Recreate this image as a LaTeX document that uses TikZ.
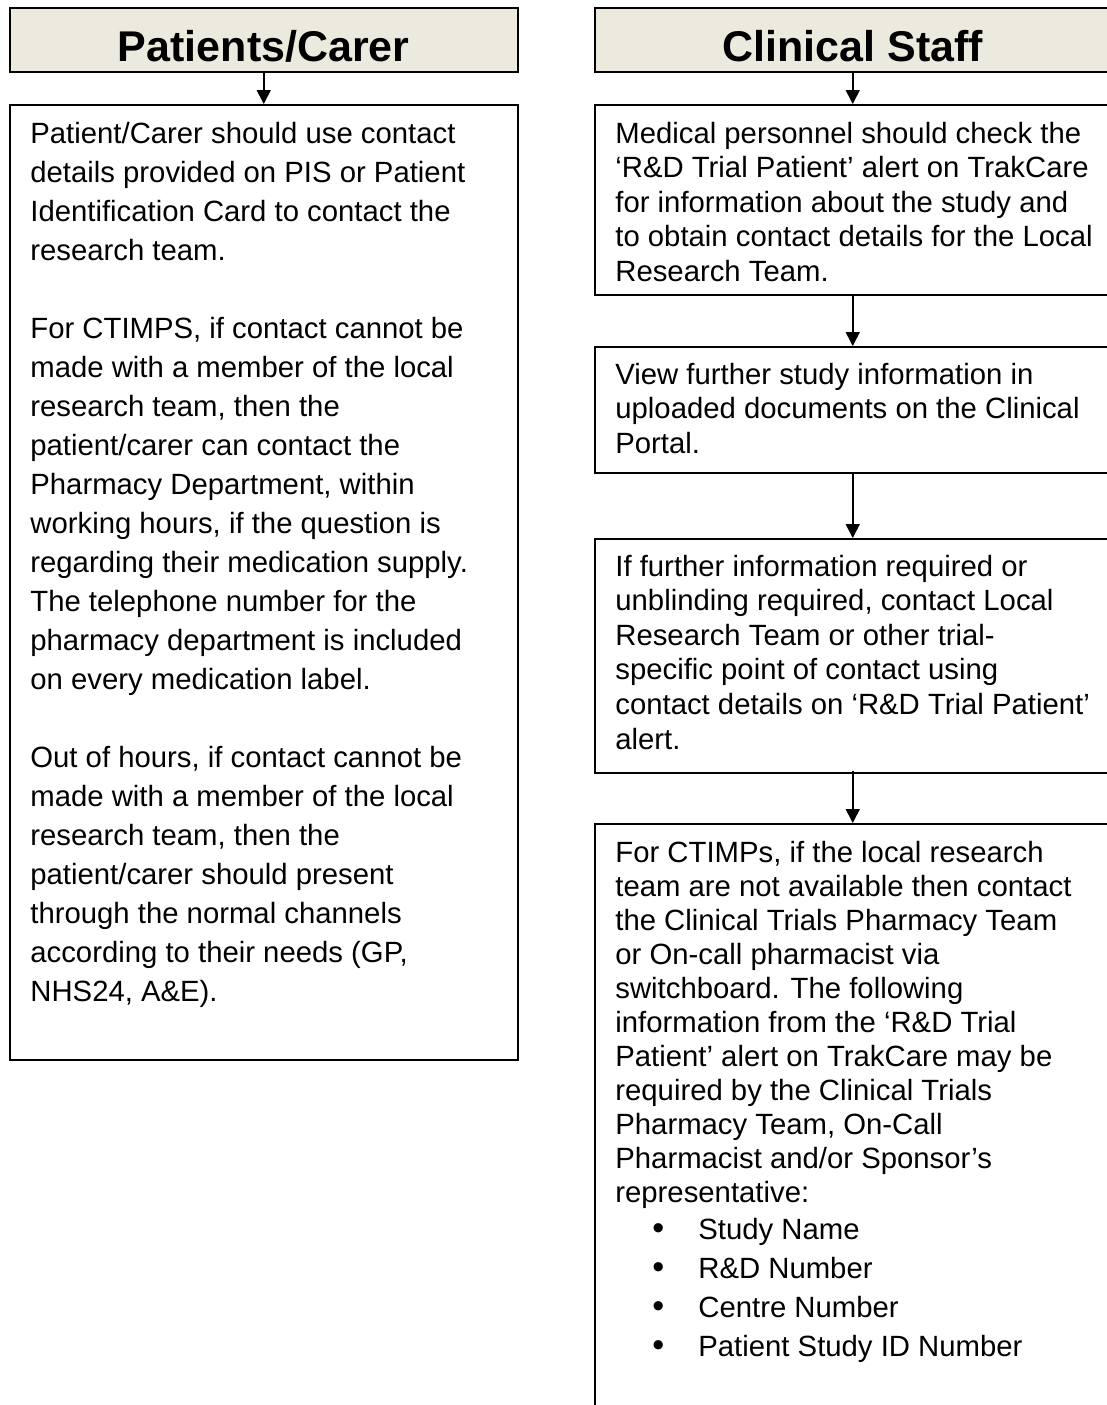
\documentclass[tikz,border=0pt]{standalone}
\usepackage{fontspec}
\setmainfont{Liberation Sans}
\usepackage{tikz}
\usetikzlibrary{arrows.meta}
\definecolor{hdrfill}{RGB}{236,233,222}
\newcommand{\txtsize}[1]{\fontsize{14.65pt}{#1}\selectfont}
\newcommand{\itm}[1]{\hspace*{21.5pt}\makebox[0pt]{\fontsize{17pt}{17pt}\selectfont\textbullet}\hspace*{20pt}#1}

\begin{document}
\begin{tikzpicture}[x=0.5pt,y=-0.5pt,
  hdr/.style={draw,line width=1pt,fill=hdrfill,anchor=north west,inner sep=0pt,
    minimum height=32pt,text height=21pt,text depth=0pt,
    font=\bfseries\fontsize{21.5pt}{26pt}\selectfont},
  box/.style={draw,line width=1pt,anchor=north west,inner sep=0pt},
  txt/.style={anchor=base west,inner sep=0pt},
  arr/.style={-{Triangle[length=7pt,width=7pt]},line width=0.8pt}]
\useasboundingbox (0,0) rectangle (1107,1405);
\clip (0,0) rectangle (1107,1405);

% patients / carer
\node[hdr,minimum width=254.25pt] (pc) at (8.5,7) {Patients/Carer};
\node[box,minimum width=254.25pt,minimum height=477.5pt] (pbox) at (8.5,104) {};
\draw[arr] (pc) -- (pbox);
\node[txt] (ptxt) at (30,143) {\parbox[t]{250pt}{\txtsize{19.5pt}%
Patient/Carer should use contact\\
details provided on PIS or Patient\\
Identification Card to contact the\\
research team.\\[19.5pt]
For CTIMPS, if contact cannot be\\
made with a member of the local\\
research team, then the\\
patient/carer can contact the\\
Pharmacy Department, within\\
working hours, if the question is\\
regarding their medication supply.\\
The telephone number for the\\
pharmacy department is included\\
on every medication label.\\[19.5pt]
Out of hours, if contact cannot be\\
made with a member of the local\\
research team, then the\\
patient/carer should present\\
through the normal channels\\
according to their needs (GP,\\
NHS24, A\&E).}};

% clinical staff
\node[hdr,minimum width=258.25pt] (cs) at (593.5,7) {Clinical Staff};
\node[box,minimum width=258.25pt,minimum height=95pt] (b1) at (593.5,104) {};
\node[box,minimum width=258.25pt,minimum height=63pt] (b2) at (593.5,346) {};
\node[box,minimum width=258.25pt,minimum height=117pt] (b3) at (593.5,538) {};
\node[box,minimum width=258.25pt,minimum height=310pt] (b4) at (593.5,823) {};
\draw[arr] (cs) -- (b1);
\draw[arr] (b1) -- (b2);
\draw[arr] (b2) -- (b3);
\draw[arr] ([yshift=1.5pt]b3.south) -- (b4.north);

\node[txt] (t1) at (615,143) {\parbox[t]{250pt}{\txtsize{17.3pt}%
Medical personnel should check the\\
‘R\&D Trial Patient’ alert on TrakCare\\
for information about the study and\\
to obtain contact details for the Local\\
Research Team.}};
\node[txt] (t2) at (615,384) {\parbox[t]{250pt}{\txtsize{17.3pt}%
View further study information in\\
uploaded documents on the Clinical\\
Portal.}};
\node[txt] (t3) at (615,576) {\parbox[t]{250pt}{\txtsize{17.3pt}%
If further information required or\\
unblinding required, contact Local\\
Research Team or other trial-\\
specific point of contact using\\
contact details on ‘R\&D Trial Patient’\\
alert.}};
\node[txt] (t4) at (615,862) {\parbox[t]{250pt}{\txtsize{17pt}%
For CTIMPs, if the local research\\
team are not available then contact\\
the Clinical Trials Pharmacy Team\\
or On-call pharmacist via\\
switchboard. The following\\
information from the ‘R\&D Trial\\
Patient’ alert on TrakCare may be\\
required by the Clinical Trials\\
Pharmacy Team, On-Call\\
Pharmacist and/or Sponsor’s\\
representative:\\[1.5pt]
\itm{Study Name}\\[2.5pt]
\itm{R\&D Number}\\[2.5pt]
\itm{Centre Number}\\[2.5pt]
\itm{Patient Study ID Number}}};
\end{tikzpicture}
\end{document}
